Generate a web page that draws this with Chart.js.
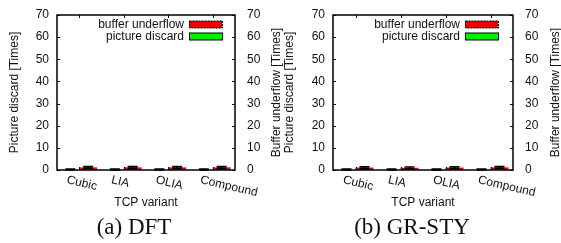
<!DOCTYPE html>
<html>
<head>
<meta charset="utf-8">
<script src="https://cdn.jsdelivr.net/npm/chart.js@4.4.1/dist/chart.umd.min.js"></script>
<style>
  body { margin: 0; background: #fff; }
  #wrap { position: relative; width: 561px; height: 243px; overflow: hidden; }
  canvas { position: absolute; top: 0; }
  .cap { position: absolute; top: 214px; font: 23px "Liberation Serif", serif; color: #111; white-space: nowrap; transform: translateX(-50%); }
</style>
</head>
<body>
<div id="wrap">
  <canvas id="chartA" width="288" height="243" style="left:0"></canvas>
  <canvas id="chartB" width="282" height="243" style="left:279px"></canvas>
  <div class="cap" style="left:134px">(a) DFT</div>
  <div class="cap" style="left:412px">(b) GR-STY</div>
</div>
<script>
const categories = ['Cubic', 'LIA', 'OLIA', 'Compound'];
const yTicks = [0, 10, 20, 30, 40, 50, 60, 70];

// (a) DFT
const dftUnderflow = [1.2, 1.2, 1.2, 1.2];
const dftUnderflowErr = [0.4, 0.4, 0.4, 0.4];
const dftDiscard = [0.2, 0.2, 0.2, 0.2];
const dftDiscardErr = [0.2, 0.2, 0.2, 0.2];

// (b) GR-STY
const grUnderflow = [1.1, 1.0, 1.1, 1.2];
const grUnderflowErr = [0.4, 0.4, 0.4, 0.4];
const grDiscard = [0.2, 0.2, 0.2, 0.2];
const grDiscardErr = [0.2, 0.2, 0.2, 0.2];

const FONT = '"Liberation Sans", Arial, sans-serif';

// frame, inward ticks, rotated labels, axis titles, error bars and legend
const gnuplotLook = {
  id: 'gnuplotLook',
  afterDatasetsDraw(chart, args, opts) {
    const ctx = chart.ctx;
    const a = chart.chartArea;
    const x = chart.scales.x, y = chart.scales.y;
    ctx.save();
    // error bars
    chart.data.datasets.forEach((ds, di) => {
      const meta = chart.getDatasetMeta(di);
      meta.data.forEach((bar, i) => {
        const v = ds.data[i], e = ds.errors[i];
        const y1 = y.getPixelForValue(v - e), y2 = y.getPixelForValue(v + e);
        ctx.strokeStyle = '#000';
        ctx.lineWidth = 1.5;
        ctx.beginPath();
        ctx.moveTo(bar.x, y1); ctx.lineTo(bar.x, y2);
        ctx.moveTo(bar.x - 5, y1); ctx.lineTo(bar.x + 5, y1);
        ctx.moveTo(bar.x - 5, y2); ctx.lineTo(bar.x + 5, y2);
        ctx.stroke();
      });
    });
    // frame
    ctx.strokeStyle = '#000';
    ctx.lineWidth = 1.5;
    ctx.strokeRect(a.left, a.top, a.right - a.left, a.bottom - a.top);
    ctx.lineWidth = 1;
    ctx.beginPath();
    yTicks.forEach(t => {
      const py = Math.round(y.getPixelForValue(t)) + 0.5;
      ctx.moveTo(a.left, py); ctx.lineTo(a.left + 3, py);
      ctx.moveTo(a.right, py); ctx.lineTo(a.right - 3, py);
    });
    categories.forEach((c, i) => {
      const px = Math.round(x.getPixelForValue(i)) + 0.5;
      ctx.moveTo(px, a.top); ctx.lineTo(px, a.top + 3);
      ctx.moveTo(px, a.bottom); ctx.lineTo(px, a.bottom - 3);
    });
    ctx.stroke();
    // x labels, rotated like gnuplot
    ctx.fillStyle = '#111';
    ctx.font = '12px ' + FONT;
    ctx.textAlign = 'left';
    ctx.textBaseline = 'top';
    categories.forEach((c, i) => {
      const px = x.getPixelForValue(i);
      ctx.save();
      ctx.translate(px - 11, a.bottom + 4);
      ctx.rotate(13 * Math.PI / 180);
      ctx.fillText(c, 0, 0);
      ctx.restore();
    });
    ctx.textAlign = 'center';
    ctx.fillText('TCP variant', (a.left + a.right) / 2, a.bottom + 27);
    // y titles, both read bottom to top
    const midY = (a.top + a.bottom) / 2;
    ctx.textBaseline = 'middle';
    [[opts.leftTitleX, 'Picture discard [Times]'], [opts.rightTitleX, 'Buffer underflow [Times]']].forEach(([tx, text]) => {
      ctx.save();
      ctx.translate(tx, midY);
      ctx.rotate(-Math.PI / 2);
      ctx.fillText(text, 0, 0);
      ctx.restore();
    });
    // legend inside, top right
    const items = [chart.data.datasets[1], chart.data.datasets[0]];
    items.forEach((ds, k) => {
      const cy = a.top + 9.5 + k * 12;
      const sx = a.right - opts.legendRight - 33;
      ctx.fillStyle = ds.backgroundColor;
      ctx.fillRect(sx, cy - 3.5, 33, 7);
      ctx.strokeStyle = '#000';
      ctx.lineWidth = 1;
      ctx.setLineDash(k === 0 ? [2, 1] : []);
      ctx.strokeRect(sx + 0.5, cy - 3.5, 33, 7);
      ctx.setLineDash([]);
      ctx.fillStyle = '#111';
      ctx.textAlign = 'right';
      ctx.textBaseline = 'middle';
      ctx.fillText(ds.label, sx - 5, cy);
    });
    ctx.restore();
  }
};

function makeChart(id, discard, discardErr, underflow, underflowErr, leftW, rightW, look) {
  const tickOpts = pad => ({ stepSize: 10, color: '#111', font: { family: FONT, size: 12 }, padding: pad });
  const fitTo = w => s => { s.width = w; s.paddingTop = 0; s.paddingBottom = 0; };
  return new Chart(document.getElementById(id), {
    type: 'bar',
    data: {
      labels: categories,
      datasets: [
        {
          label: 'picture discard', data: discard, errors: discardErr,
          backgroundColor: '#00ee00', borderColor: '#000', borderWidth: 1,
          barPercentage: 0.45, categoryPercentage: 0.8, yAxisID: 'y'
        },
        {
          label: 'buffer underflow', data: underflow, errors: underflowErr,
          backgroundColor: '#ee0000', borderColor: '#000', borderWidth: 0,
          barPercentage: 1.0, categoryPercentage: 0.8, yAxisID: 'y'
        }
      ]
    },
    options: {
      responsive: false,
      animation: false,
      layout: { padding: { top: 15, bottom: 73, left: 0, right: 0 } },
      plugins: { legend: { display: false }, tooltip: { enabled: false }, gnuplotLook: look },
      scales: {
        x: { display: false },
        y: {
          position: 'left', min: 0, max: 70,
          afterFit: fitTo(leftW),
          grid: { display: false, drawTicks: false }, border: { display: false },
          ticks: tickOpts(8)
        },
        y2: {
          position: 'right', min: 0, max: 70,
          afterFit: fitTo(rightW),
          grid: { display: false, drawTicks: false }, border: { display: false },
          ticks: tickOpts(12)
        }
      }
    },
    plugins: [gnuplotLook]
  });
}

makeChart('chartA', dftDiscard, dftDiscardErr, dftUnderflow, dftUnderflowErr, 57, 53,
  { legendRight: 13, leftTitleX: 15, rightTitleX: 277 });
makeChart('chartB', grDiscard, grDiscardErr, grUnderflow, grUnderflowErr, 54, 48,
  { legendRight: 15, leftTitleX: 11, rightTitleX: 277 });
</script>
</body>
</html>
